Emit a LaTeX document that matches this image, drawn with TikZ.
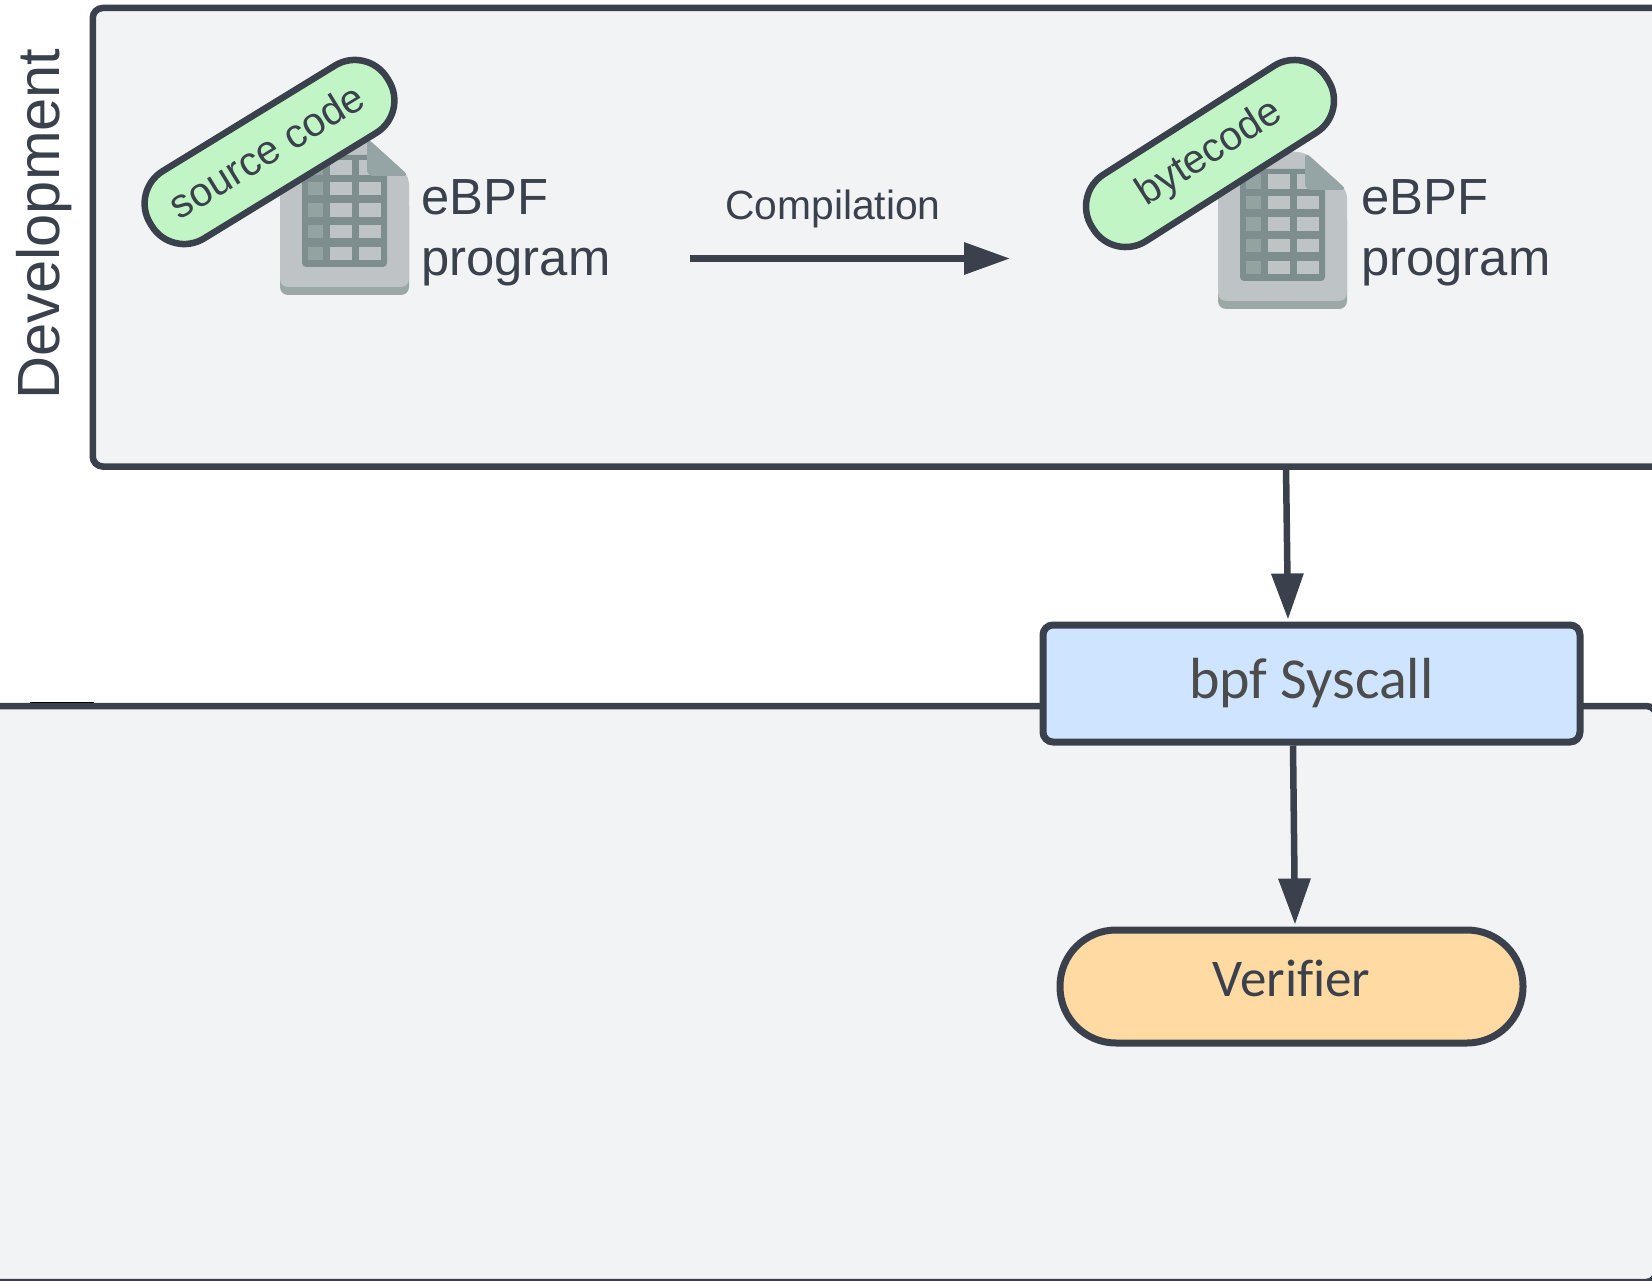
\documentclass[tikz,border=0pt]{standalone}
\usepackage{fontspec}
\setmainfont{Liberation Sans}
\newfontfamily\carlitofont{Carlito}
\usetikzlibrary{arrows.meta,calc}
\definecolor{ink}{HTML}{3A414C}
\definecolor{panelbg}{HTML}{F2F3F5}
\definecolor{pillgreen}{HTML}{C2F5C5}
\definecolor{boxblue}{HTML}{CFE4FF}
\definecolor{pillorange}{HTML}{FFDBA3}
\definecolor{docbody}{HTML}{BEC3C6}
\definecolor{docband}{HTML}{9AA8A6}
\definecolor{doctable}{HTML}{7E8E8E}
\definecolor{dochead}{HTML}{92A3A2}
\definecolor{docfold}{HTML}{95A5A5}
\tikzset{
  panel/.style={draw=ink,fill=panelbg,line width=6.5pt,rounded corners=10pt,inner sep=0pt,anchor=north west},
  tagpill/.style={draw=ink,fill=pillgreen,line width=6.5pt,rounded corners=38pt,minimum width=278pt,minimum height=79pt,inner sep=0pt,text=ink,font=\fontsize{40.5pt}{41pt}\selectfont},
  doclabel/.style={anchor=west,align=left,text=ink,inner sep=0pt,font=\fontsize{50.8pt}{61.5pt}\selectfont},
  flow/.style={draw=ink,line width=6.5pt,-{Triangle[length=46pt,width=31pt]}},
  pics/docicon/.style={code={
    \fill[docband,rounded corners=8pt] (0,60) rectangle (129,157);
    \fill[docbody,rounded corners=8pt] (0,0) -- (87,0) -- (129,38) -- (129,149) -- (0,149) -- cycle;
    \fill[doctable,rounded corners=4pt] (22,17) rectangle (107,129);
    \foreach \ya/\yb in {22/37,44/57,65/79,87/100,109/122}{
      \fill[dochead] (28,\ya) rectangle (43,\yb);
      \fill[docbody] (50,\ya) rectangle (72,\yb);
      \fill[docbody] (79,\ya) rectangle (101,\yb);
    }
    \fill[docfold,rounded corners=6pt] (87,0) -- (87,38) -- (129,38) -- cycle;
  }}
}
\begin{document}
\begin{tikzpicture}[x=1pt,y=-1pt]
\clip (0,0) rectangle (1652,1281);
\fill[white] (0,0) rectangle (1652,1281);

\node[panel,minimum width=1660pt,minimum height=458.5pt] (dev) at (89.5,4.75) {};
\node[panel,minimum width=1703pt,minimum height=576pt] (kernel) at (-50,702.75) {};
\draw[black,line width=1pt] (30,702.3) -- (94,702.3);

\node[text=ink,rotate=90,inner sep=0pt,font=\fontsize{59.6pt}{60pt}\selectfont] (devlabel) at (44,224) {Development};

\pic at (280,138) {docicon};
\pic at (1218,152) {docicon};

\node[tagpill,rotate=31.5] (src) at (269.5,152) {\raisebox{6pt}{\kern-4pt source code}};
\node[tagpill,rotate=32.5] (byte) at (1210,153.5) {\raisebox{6pt}{bytecode}};

\node[doclabel] (prog1) at (421,233) {eBPF\\program};
\node[doclabel] (prog2) at (1361,233) {eBPF\\program};

\node[text=ink,inner sep=0pt,font=\fontsize{40.8pt}{41pt}\selectfont] (comp) at (833,209) {Compilation};
\coordinate (compstart) at (690,258.5);
\coordinate (compend) at (1010,258.5);
\draw[flow] (compstart) -- (compend);

\node[draw=ink,fill=boxblue,line width=7pt,rounded corners=10pt,minimum width=537pt,minimum height=117pt,inner sep=0pt,text=black!70,font=\carlitofont\fontsize{58pt}{58pt}\selectfont] (bpf) at (1311.5,683.5) {\raisebox{1pt}{bpf Syscall}};
\node[draw=ink,fill=pillorange,line width=7pt,rounded corners=56pt,minimum width=463pt,minimum height=113pt,inner sep=0pt,text=ink,font=\carlitofont\fontsize{53pt}{53pt}\selectfont] (ver) at (1291.5,986.5) {\raisebox{16pt}{Verif\kern0pt ier}};

\draw[flow] ($(bpf.north)+(-25.5,-155)$) -- ($(bpf.north)+(-23.5,-2)$);
\draw[flow] ($(bpf.south)+(-18.5,0)$) -- ($(ver.north)+(3.5,-2)$);
\end{tikzpicture}
\end{document}
